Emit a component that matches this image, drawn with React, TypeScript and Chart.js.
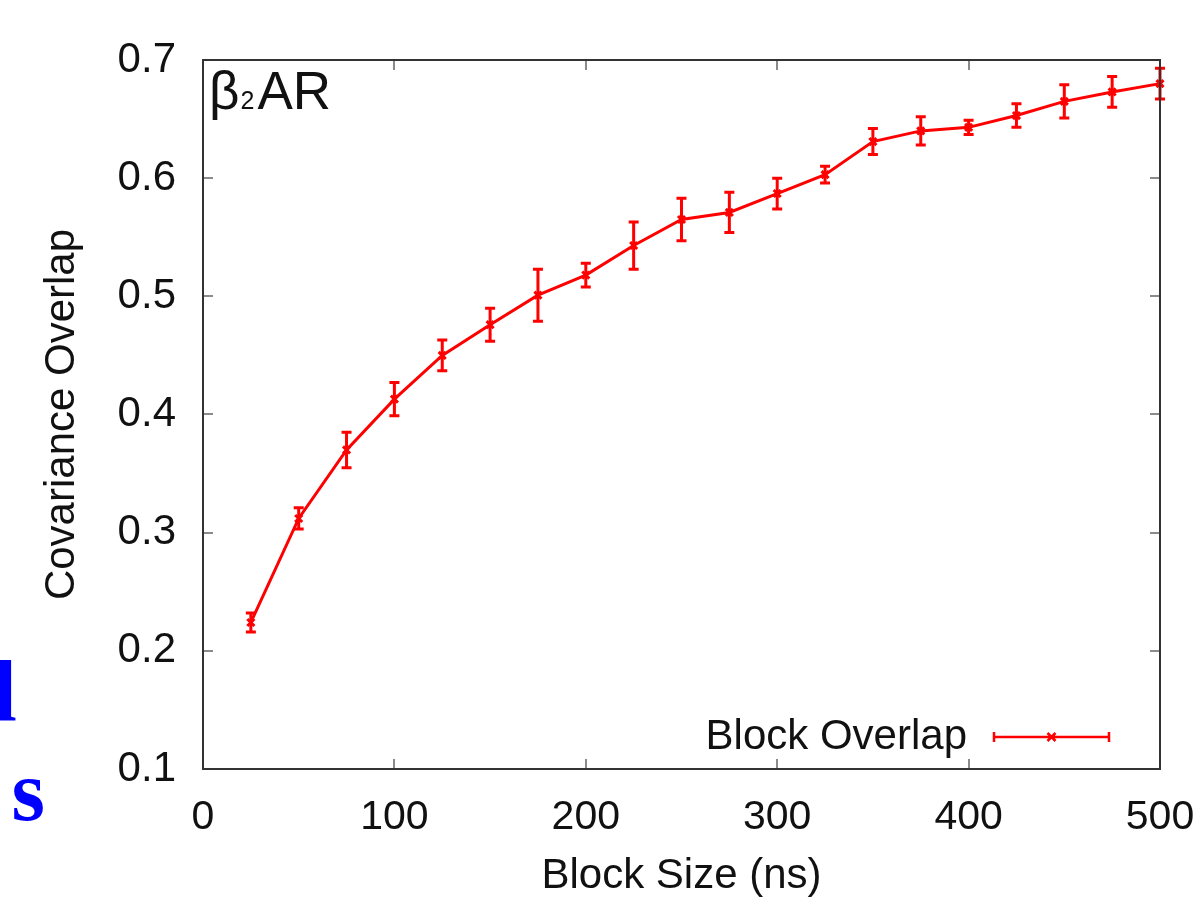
import React, { useEffect, useRef } from "react";
import { Chart, registerables } from "chart.js";

Chart.register(...registerables);

const blockSizes = [25, 50, 75, 100, 125, 150, 175, 200, 225, 250, 275, 300, 325, 350, 375, 400, 425, 450, 475, 500];
const overlap = [0.224, 0.312, 0.37, 0.413, 0.45, 0.476, 0.501, 0.518, 0.543, 0.565, 0.571, 0.587, 0.603, 0.631, 0.64, 0.643, 0.653, 0.665, 0.673, 0.68];
const overlapErr = [0.008, 0.009, 0.015, 0.014, 0.013, 0.014, 0.022, 0.01, 0.02, 0.018, 0.017, 0.013, 0.007, 0.011, 0.012, 0.006, 0.01, 0.014, 0.013, 0.013];
const xTickValues = [0, 100, 200, 300, 400, 500];
const yTickValues = [0.1, 0.2, 0.3, 0.4, 0.5, 0.6, 0.7];
const xTitle = "Block Size (ns)";
const yTitle = "Covariance Overlap";
const seriesLabel = "Block Overlap";
const panelMain = "β";
const panelSub = "2";
const panelRest = "AR";
const sideTextTop = "al";
const sideTextBottom = "s";

const FONT = '"Liberation Sans", Arial, Helvetica, sans-serif';
const RED = "#ff0000";
const INK = "#111111";

const decorPlugin = {
  id: "decor",
  afterDatasetsDraw(chart: any) {
    const { ctx, chartArea: a, scales } = chart;
    const xs = scales.x;
    const ys = scales.y;
    ctx.save();

    // error bars
    ctx.strokeStyle = RED;
    ctx.lineWidth = 3;
    blockSizes.forEach((bx, i) => {
      const px = xs.getPixelForValue(bx);
      const lo = ys.getPixelForValue(overlap[i] - overlapErr[i]);
      const hi = ys.getPixelForValue(overlap[i] + overlapErr[i]);
      ctx.beginPath();
      ctx.moveTo(px, lo);
      ctx.lineTo(px, hi);
      ctx.moveTo(px - 5, lo);
      ctx.lineTo(px + 5, lo);
      ctx.moveTo(px - 5, hi);
      ctx.lineTo(px + 5, hi);
      ctx.stroke();
    });

    // inward ticks (mirrored)
    ctx.strokeStyle = "#666666";
    ctx.lineWidth = 1.5;
    ctx.beginPath();
    xTickValues.forEach((v) => {
      const px = Math.round(xs.getPixelForValue(v));
      ctx.moveTo(px, a.bottom);
      ctx.lineTo(px, a.bottom - 10);
      ctx.moveTo(px, a.top);
      ctx.lineTo(px, a.top + 10);
    });
    yTickValues.forEach((v) => {
      const py = Math.round(ys.getPixelForValue(v));
      ctx.moveTo(a.left, py);
      ctx.lineTo(a.left + 10, py);
      ctx.moveTo(a.right, py);
      ctx.lineTo(a.right - 10, py);
    });
    ctx.stroke();

    // frame
    ctx.strokeStyle = "#333333";
    ctx.lineWidth = 2;
    ctx.strokeRect(a.left, a.top, a.right - a.left, a.bottom - a.top);

    // legend
    ctx.font = `42px ${FONT}`;
    ctx.fillStyle = INK;
    ctx.textAlign = "right";
    ctx.textBaseline = "alphabetic";
    ctx.fillText(seriesLabel, a.right - 193, a.bottom - 20);
    const ly = a.bottom - 32;
    const lx1 = a.right - 166;
    const lx2 = a.right - 51;
    const lmid = (lx1 + lx2) / 2;
    ctx.strokeStyle = RED;
    ctx.lineWidth = 2.5;
    ctx.beginPath();
    ctx.moveTo(lx1, ly);
    ctx.lineTo(lx2, ly);
    ctx.moveTo(lx1, ly - 5);
    ctx.lineTo(lx1, ly + 5);
    ctx.moveTo(lx2, ly - 5);
    ctx.lineTo(lx2, ly + 5);
    ctx.moveTo(lmid - 4, ly - 4);
    ctx.lineTo(lmid + 4, ly + 4);
    ctx.moveTo(lmid - 4, ly + 4);
    ctx.lineTo(lmid + 4, ly - 4);
    ctx.stroke();

    // panel label
    ctx.fillStyle = INK;
    ctx.textAlign = "left";
    const bx = a.left + 6;
    const by = a.top + 49;
    ctx.font = `53px ${FONT}`;
    ctx.fillText(panelMain, bx, by);
    let cx = bx + ctx.measureText(panelMain).width + 1;
    ctx.font = `25px ${FONT}`;
    ctx.fillText(panelSub, cx, by);
    cx += ctx.measureText(panelSub).width + 3;
    ctx.font = `53px ${FONT}`;
    ctx.fillText(panelRest, cx, by);

    ctx.restore();
  },
};

export default function App() {
  const ref = useRef<HTMLCanvasElement>(null);

  useEffect(() => {
    if (!ref.current) return;
    Chart.defaults.font.family = FONT;
    Chart.defaults.color = INK;
    const chart = new Chart(ref.current, {
      type: "line",
      data: {
        datasets: [
          {
            label: seriesLabel,
            data: blockSizes.map((x, i) => ({ x, y: overlap[i] })),
            borderColor: RED,
            backgroundColor: RED,
            borderWidth: 3,
            pointStyle: "crossRot",
            pointRadius: 5,
            pointBorderWidth: 3,
            pointBorderColor: RED,
            tension: 0,
            fill: false,
            clip: false as any,
          },
        ],
      },
      options: {
        animation: false,
        responsive: true,
        maintainAspectRatio: false,
        layout: { padding: { left: 0, top: 60, right: 40, bottom: 0 } },
        plugins: {
          legend: { display: false },
          tooltip: { enabled: false },
        },
        scales: {
          x: {
            type: "linear",
            min: 0,
            max: 500,
            grid: { display: false, drawTicks: false },
            border: { display: false },
            afterBuildTicks: (s: any) => {
              s.ticks = xTickValues.map((v) => ({ value: v }));
            },
            afterFit: (s: any) => {
              s.height = 138;
              s.paddingLeft = 0;
              s.paddingRight = 0;
            },
            ticks: {
              padding: 24,
              maxRotation: 0,
              autoSkip: false,
              color: INK,
              font: { size: 41 },
              callback: (v: any) => String(v),
            },
            title: {
              display: true,
              text: xTitle,
              color: INK,
              font: { size: 42 },
              padding: { top: 0, bottom: 5 },
            },
          },
          y: {
            type: "linear",
            min: 0.1,
            max: 0.7,
            grid: { display: false, drawTicks: false },
            border: { display: false },
            afterBuildTicks: (s: any) => {
              s.ticks = yTickValues.map((v) => ({ value: v }));
            },
            afterFit: (s: any) => {
              s.width = 203;
              s.paddingTop = 0;
              s.paddingBottom = 0;
            },
            ticks: {
              padding: 27,
              autoSkip: false,
              color: INK,
              font: { size: 42 },
              callback: (v: any) => Number(v).toFixed(1),
            },
            title: {
              display: true,
              text: yTitle,
              color: INK,
              font: { size: 42 },
              padding: { top: 37, bottom: 0 },
            },
          },
        },
      },
      plugins: [decorPlugin],
    });
    return () => chart.destroy();
  }, []);

  return (
    <div
      style={{
        position: "absolute",
        left: 0,
        top: 0,
        width: 1200,
        height: 907,
        background: "#ffffff",
        overflow: "hidden",
      }}
    >
      <canvas ref={ref} style={{ display: "block" }} />
      <div
        style={{
          position: "absolute",
          left: -200,
          width: 217,
          top: 648,
          textAlign: "right",
          font: 'bold 86px "Liberation Serif", "DejaVu Serif", serif',
          lineHeight: 1,
          color: "#0000ff",
          whiteSpace: "nowrap",
        }}
      >
        {sideTextTop}
      </div>
      <div
        style={{
          position: "absolute",
          left: -200,
          width: 245,
          top: 748,
          textAlign: "right",
          font: 'bold 86px "Liberation Serif", "DejaVu Serif", serif',
          lineHeight: 1,
          color: "#0000ff",
          whiteSpace: "nowrap",
        }}
      >
        {sideTextBottom}
      </div>
    </div>
  );
}
